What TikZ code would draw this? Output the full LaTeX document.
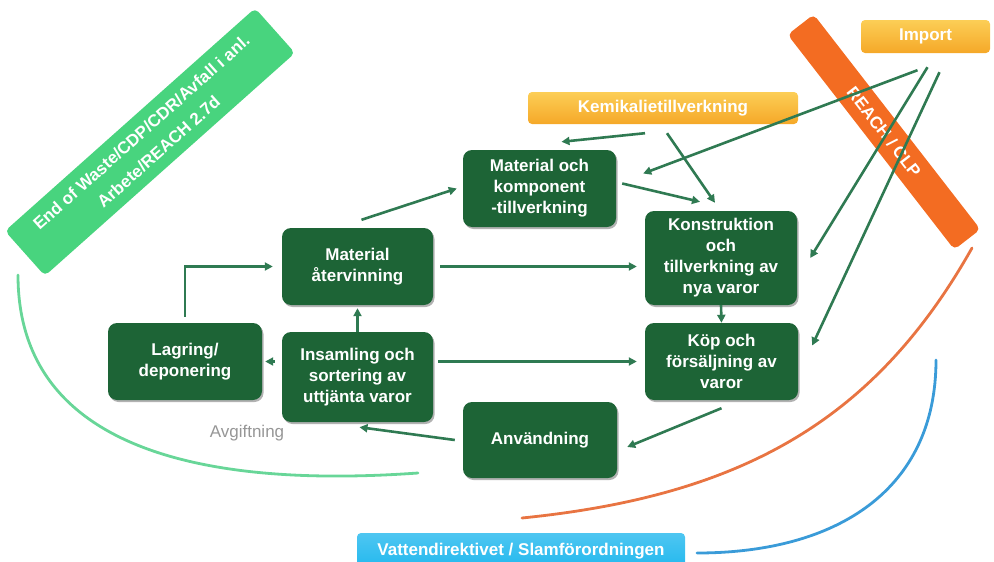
\documentclass[tikz,border=0pt]{standalone}
\usepackage{fontspec}
\setmainfont{Liberation Sans}
\usetikzlibrary{arrows.meta,shadows}
\definecolor{boxgreen}{RGB}{29,100,54}
\definecolor{arrgreen}{RGB}{47,122,82}
\definecolor{ribgreen}{RGB}{72,212,126}
\definecolor{curvegreen}{RGB}{104,214,152}
\definecolor{riborange}{RGB}{243,108,34}
\definecolor{curveorange}{RGB}{232,116,66}
\definecolor{curveblue}{RGB}{58,155,216}
\definecolor{vatblue}{RGB}{34,184,238}
\definecolor{yeltop}{RGB}{252,206,86}
\definecolor{yelbot}{RGB}{245,168,40}
\definecolor{avgray}{RGB}{150,150,150}
\begin{document}
\begin{tikzpicture}[x=1pt,y=-1pt,
  gbox/.style={fill=boxgreen, rounded corners=9pt, text=white,
    font=\fontsize{17}{21}\selectfont\bfseries, align=center, inner sep=2pt,
    drop shadow={shadow xshift=1.5pt, shadow yshift=-2pt, opacity=0.3, fill=black}},
  ybox/.style={rounded corners=4pt, top color=yeltop, bottom color=yelbot, text=white,
    font=\fontsize{17}{21}\selectfont\bfseries, inner sep=0pt},
  ribbon/.style={rounded corners=5pt, text=white, align=center, inner sep=0pt,
    font=\fontsize{17}{26}\selectfont\bfseries},
  arr/.style={draw=arrgreen, line width=2.6pt, -{Triangle[length=8pt,width=8pt]}},
  curve/.style={line width=2.8pt, line cap=round}
]
\useasboundingbox (0,0) rectangle (994,562);
\clip (0,0) rectangle (994,562);

% curves
\draw[curve, draw=curvegreen] (18,275) .. controls (18,470) and (250,485) .. (418,473);
\draw[curve, draw=curveorange] (972,248) .. controls (874,422) and (740,496) .. (522,518);
\draw[curve, draw=curveblue] (936,360) .. controls (936,490) and (837,553) .. (697,553);

% ribbons
\node[ribbon, fill=ribgreen, rotate=41.7, minimum width=335pt, minimum height=60pt]
  (eow) at (150,142) {End of Waste/CDP/CDR/Avfall i anl.\\Arbete/REACH 2.7d};
\node[ribbon, fill=riborange, rotate=-52.2, minimum width=272pt, minimum height=33pt]
  (reach) at (884,132) {REACH / CLP};

% boxes
\node[gbox, minimum width=153pt, minimum height=77pt] (mk) at (539.5,188.5) {Material och\\komponent\\-tillverkning};
\node[gbox, minimum width=152pt, minimum height=94pt] (kon) at (721,258) {Konstruktion\\och\\tillverkning av\\nya varor};
\node[gbox, minimum width=151pt, minimum height=77pt] (ater) at (357.5,266.5) {Material\\återvinning};
\node[gbox, minimum width=153pt, minimum height=77pt] (kop) at (721.5,361.5) {Köp och\\försäljning av\\varor};
\node[gbox, minimum width=154pt, minimum height=77pt] (lag) at (185,361.5) {Lagring/\\deponering};
\node[gbox, minimum width=151pt, minimum height=90pt] (ins) at (357.5,377) {Insamling och\\sortering av\\uttjänta varor};
\node[gbox, minimum width=154pt, minimum height=76pt] (anv) at (540,440) {Användning};

\node[ybox, minimum width=270pt, minimum height=32pt] (kem) at (663,108) {Kemikalietillverkning};
\node[ybox, minimum width=129pt, minimum height=33pt] (imp) at (925.5,36.5) {Import};
\node[rounded corners=4pt, top color=vatblue!80!white, bottom color=vatblue, text=white,
  font=\fontsize{17}{21}\selectfont\bfseries, inner sep=0pt, minimum width=328pt, minimum height=36pt]
  (vat) at (521,551) {Vattendirektivet / Slamförordningen};

\node[text=avgray, font=\fontsize{17}{21}\selectfont, inner sep=0pt] (avg) at (247,433) {Avgiftning};

% arrows
\draw[arr] ([xshift=4pt,yshift=8pt]ater.north) -- ([xshift=-6pt]mk.west);
\draw[arr] ([xshift=6pt,yshift=5pt]mk.east) -- ([xshift=-21pt,yshift=9pt]kon.north);
\draw[arr] ([xshift=-18pt,yshift=-9pt]kem.south) -- ([xshift=22pt,yshift=8pt]mk.north);
\draw[arr] ([xshift=4pt,yshift=-9pt]kem.south) -- ([xshift=-6pt,yshift=8pt]kon.north);
\draw[arr] ([xshift=-8pt,yshift=-17pt]imp.south) -- ([xshift=27pt,yshift=15pt]mk.east);
\draw[arr] ([xshift=2pt,yshift=-14pt]imp.south) -- ([xshift=13pt]kon.east);
\draw[arr] ([xshift=14pt,yshift=-19pt]imp.south) -- ([xshift=14pt,yshift=16pt]kop.east);
\draw[arr, shorten <=7pt, shorten >=8pt] (ater.east) -- (ater.east -| kon.west);
\draw[arr] (kon.south) -- (kop.north);
\draw[arr, shorten <=5pt, shorten >=8pt] (kop.west -| ins.east) -- (kop.west);
\draw[arr, shorten >=3pt] (ins.north) -- (ater.south);
\draw[arr, shorten <=7pt, shorten >=3pt] (lag.east -| ins.west) -- (lag.east);
\draw[arr, shorten <=6pt, shorten >=9pt] (lag.north) |- (ater.west);
\draw[arr] ([yshift=-8pt]kop.south) -- ([xshift=10pt,yshift=-7pt]anv.east);
\draw[arr] ([xshift=-8pt]anv.west) -- ([xshift=2pt,yshift=-5pt]ins.south);
\end{tikzpicture}
\end{document}
